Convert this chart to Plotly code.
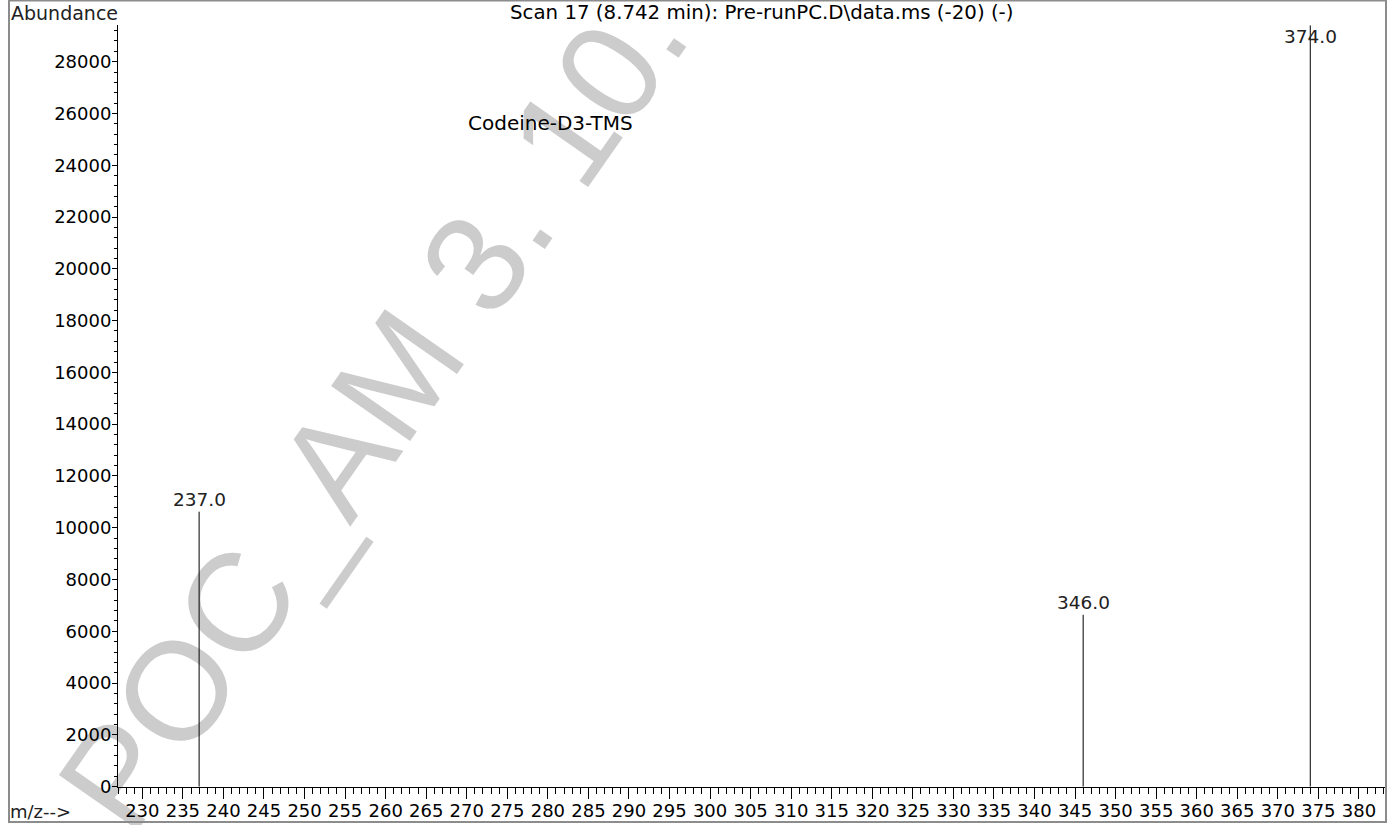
import plotly.graph_objects as go

# ---- data ----
mz_values = [237.0, 346.0, 374.0]
abundances = [10620, 6640, 29400]
peak_labels = ["237.0", "346.0", "374.0"]
x_tick_vals = list(range(230, 381, 5))
y_tick_vals = list(range(0, 28001, 2000))
title_text = "Scan 17 (8.742 min): Pre-runPC.D\\data.ms (-20) (-)"
compound_text = "Codeine-D3-TMS"
watermark_text = "POC_AM 3. 10. 2025"

W, H = 1388, 825


def px(x):
    return x / W


def py(y):
    return 1 - y / H


xs, ys = [], []
for m, a in zip(mz_values, abundances):
    xs += [m, m, None]
    ys += [0, a, None]

fig = go.Figure()
fig.add_trace(go.Scatter(x=xs, y=ys, mode="lines",
                         line=dict(color="black", width=1),
                         hoverinfo="skip", showlegend=False))

FONT = "DejaVu Sans"

fig.update_layout(
    template="none",
    width=W, height=H, autosize=False,
    margin=dict(l=0, r=0, t=0, b=0, autoexpand=False),
    paper_bgcolor="white", plot_bgcolor="white",
    showlegend=False,
    font=dict(family=FONT, size=18, color="black"),
    xaxis=dict(
        domain=[px(118), px(1387)],
        range=[227.0, 383.46],
        automargin=False,
        tickvals=x_tick_vals,
        ticktext=[str(v) for v in x_tick_vals],
        ticks="outside", ticklen=11, tickwidth=1, tickcolor="black",
        ticklabelstandoff=-3,
        showline=True, linecolor="black", linewidth=1,
        showgrid=False, zeroline=False,
        tickfont=dict(family=FONT, size=18, color="black"),
        minor=dict(dtick=1, tick0=230, ticks="outside", ticklen=6,
                   tickcolor="black", tickwidth=1, showgrid=False),
    ),
    yaxis=dict(
        domain=[py(786.7), py(25)],
        range=[0, 29415],
        automargin=False,
        tickvals=y_tick_vals,
        ticktext=[str(v) for v in y_tick_vals],
        ticks="outside", ticklen=5, tickwidth=1, tickcolor="black",
        ticklabelstandoff=-3,
        showline=True, linecolor="black", linewidth=1,
        showgrid=False, zeroline=False,
        tickfont=dict(family=FONT, size=18, color="black"),
        minor=dict(dtick=400, tick0=0, ticks="outside", ticklen=3,
                   tickcolor="black", tickwidth=1, showgrid=False),
    ),
)

# watermark below data (shape label)
cx, cy = 462.6, 259.1
fig.add_shape(type="rect", xref="paper", yref="paper",
              x0=px(cx - 20), x1=px(cx + 20), y0=py(cy + 20), y1=py(cy - 20),
              line=dict(width=0), fillcolor="rgba(0,0,0,0)", layer="below",
              label=dict(text=watermark_text, textangle=-55,
                         textposition="middle center",
                         font=dict(family="Liberation Sans", size=140, color="#cccccc")))

# border
fig.add_shape(type="rect", xref="paper", yref="paper",
              x0=px(9), x1=px(1386), y0=py(822), y1=py(0.5),
              line=dict(color="#8c8c8c", width=2), layer="above")

# peak labels
for m, a, t in zip(mz_values, abundances, peak_labels):
    if a > 29000:
        fig.add_annotation(x=m, y=a, text=t, showarrow=False,
                           xanchor="center", yanchor="middle", yshift=-11,
                           font=dict(family=FONT, size=18.5, color="#222"))
    else:
        fig.add_annotation(x=m, y=a, text=t, showarrow=False,
                           xanchor="center", yanchor="bottom",
                           font=dict(family=FONT, size=18.5, color="#222"))

fig.add_annotation(xref="paper", yref="paper", x=px(761), y=py(12.5),
                   text=title_text, showarrow=False, xanchor="center", yanchor="middle",
                   font=dict(family=FONT, size=19.8, color="black"))
fig.add_annotation(xref="paper", yref="paper", x=px(9), y=py(12.7),
                   text="Abundance", showarrow=False, xanchor="left", yanchor="middle",
                   font=dict(family=FONT, size=19, color="#222"))
fig.add_annotation(xref="paper", yref="paper", x=px(550.5), y=py(123),
                   text=compound_text, showarrow=False, xanchor="center", yanchor="middle",
                   font=dict(family=FONT, size=20, color="black"))
fig.add_annotation(xref="paper", yref="paper", x=px(8), y=py(811),
                   text="m/z-->", showarrow=False, xanchor="left", yanchor="middle",
                   font=dict(family=FONT, size=18, color="#222"))

page_js = """
document.documentElement.style.margin='0';
document.body.style.margin='0';
document.body.style.overflow='hidden';
document.documentElement.style.overflow='hidden';
"""

fig.write_html("out.html", config={"displayModeBar": False}, post_script=page_js)
